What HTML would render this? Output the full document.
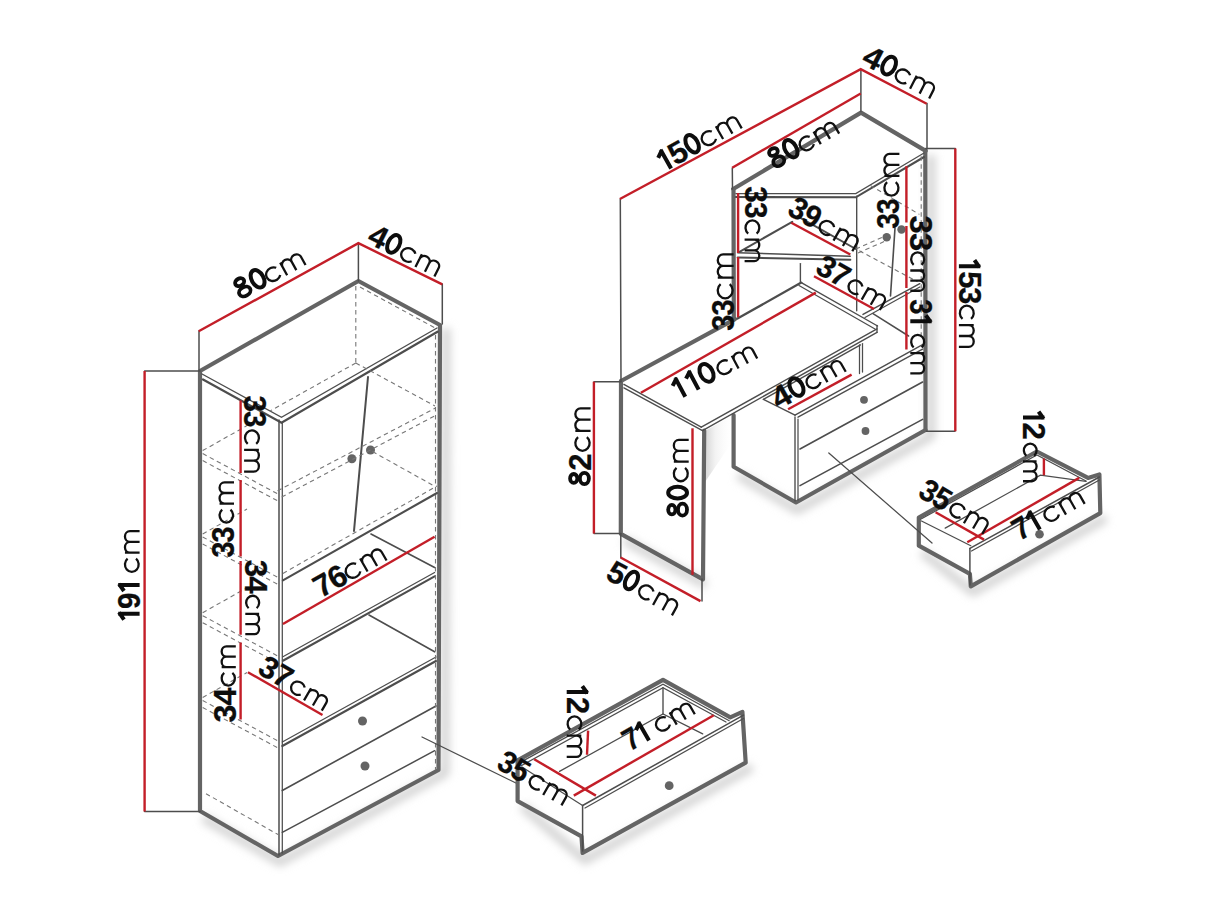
<!DOCTYPE html>
<html><head><meta charset="utf-8"><style>
html,body{margin:0;padding:0;background:#fff;}
svg{display:block;}
text{font-family:"Liberation Sans",sans-serif;fill:#0d0d0d;}
</style></head><body>
<svg width="1211" height="908" viewBox="0 0 1211 908">
<defs><linearGradient id="shg" x1="0" y1="0" x2="1" y2="0"><stop offset="0" stop-color="#d6d6d6"/><stop offset="0.35" stop-color="#f2f2f2"/><stop offset="1" stop-color="#fff" stop-opacity="0"/></linearGradient>
<filter id="blur" x="-20%" y="-20%" width="140%" height="140%"><feGaussianBlur stdDeviation="4"/></filter></defs>
<rect width="1211" height="908" fill="#fff"/>
<g filter="url(#blur)" fill="none" stroke="#d4d4d4" stroke-width="9" stroke-linejoin="round">
<path d="M446,328 L445,773 L280,862 L203,818"/>
<path d="M931,155 L931,436 L797,510 L738,475"/>
<path d="M624,540 L706,585"/>
<path d="M752,767 L585,860 L522,806"/>
<path d="M1106,518 L973,592 L922,552"/>
</g>
<path d="M200,371 L358.4,281 L440,325 L438.5,770 L278,856 L200,811 Z" fill="none" stroke="#646464" stroke-width="4.2" stroke-linejoin="round" stroke-linecap="round"/>
<path d="M202,374 L281.5,417.3 L437,328" fill="none" stroke="#4d4d4d" stroke-width="1.38" stroke-linecap="round"/>
<path d="M203,379.5 L281.5,422.7 L437.5,331.8" fill="none" stroke="#4d4d4d" stroke-width="2.25" stroke-linecap="round"/>
<path d="M279,420 L279,855" fill="none" stroke="#4d4d4d" stroke-width="1.50" stroke-linecap="round"/>
<path d="M282.3,422 L282.3,853" fill="none" stroke="#4d4d4d" stroke-width="1.25" stroke-linecap="round"/>
<path d="M368,377 L354,531" fill="none" stroke="#4d4d4d" stroke-width="2.00" stroke-linecap="round"/>
<circle cx="351.9" cy="458.8" r="4.5" fill="#646464"/>
<circle cx="370.5" cy="450" r="4.5" fill="#646464"/>
<path d="M282.9,580.4 L437,493" fill="none" stroke="#4d4d4d" stroke-width="2.12" stroke-linecap="round"/>
<path d="M282.9,573.4 L437,486" fill="none" stroke="#777" stroke-width="1.1" stroke-dasharray="4.5 3.5"/>
<path d="M371,534 L434.6,567.5" fill="none" stroke="#4d4d4d" stroke-width="1.62" stroke-linecap="round"/>
<path d="M282.9,656.7 L434.6,572.5" fill="none" stroke="#4d4d4d" stroke-width="1.25" stroke-linecap="round"/>
<path d="M282.9,660.7 L434.6,576.4" fill="none" stroke="#4d4d4d" stroke-width="2.12" stroke-linecap="round"/>
<path d="M369,615 L434.6,651.8" fill="none" stroke="#4d4d4d" stroke-width="1.62" stroke-linecap="round"/>
<path d="M282.3,742 L436,657" fill="none" stroke="#4d4d4d" stroke-width="1.25" stroke-linecap="round"/>
<path d="M282.3,746 L436,661" fill="none" stroke="#4d4d4d" stroke-width="2.12" stroke-linecap="round"/>
<path d="M282.3,790.5 L436,706" fill="none" stroke="#4d4d4d" stroke-width="1.62" stroke-linecap="round"/>
<path d="M282.3,832.3 L434.7,750.7" fill="none" stroke="#4d4d4d" stroke-width="1.50" stroke-linecap="round"/>
<circle cx="362.5" cy="721" r="4.5" fill="#646464"/>
<circle cx="365" cy="766" r="4.5" fill="#646464"/>
<path d="M355.8,286 L355.8,363" fill="none" stroke="#777" stroke-width="1.1" stroke-dasharray="4.5 3.5"/>
<path d="M360,287 L437,329" fill="none" stroke="#777" stroke-width="1.1" stroke-dasharray="4.5 3.5"/>
<path d="M355.8,363 L270,411" fill="none" stroke="#777" stroke-width="1.1" stroke-dasharray="4.5 3.5"/>
<path d="M355.8,363 L435,406" fill="none" stroke="#777" stroke-width="1.1" stroke-dasharray="4.5 3.5"/>
<path d="M435.5,335 L435.5,770" fill="none" stroke="#777" stroke-width="1.1" stroke-dasharray="4.5 3.5"/>
<path d="M277.6,490.8 L435.5,408" fill="none" stroke="#777" stroke-width="1.1" stroke-dasharray="4.5 3.5"/>
<path d="M281.7,497 L435.5,415.5" fill="none" stroke="#777" stroke-width="1.1" stroke-dasharray="4.5 3.5"/>
<path d="M372.5,451.6 L435.5,486.7" fill="none" stroke="#777" stroke-width="1.1" stroke-dasharray="4.5 3.5"/>
<path d="M202.7,450.6 L247,425.6" fill="none" stroke="#777" stroke-width="1.1" stroke-dasharray="4.5 3.5"/>
<path d="M202.7,453.6 L279,494.6" fill="none" stroke="#777" stroke-width="1.1" stroke-dasharray="4.5 3.5"/>
<path d="M202.7,460.6 L279,501.6" fill="none" stroke="#777" stroke-width="1.1" stroke-dasharray="4.5 3.5"/>
<path d="M202.7,534 L247,509" fill="none" stroke="#777" stroke-width="1.1" stroke-dasharray="4.5 3.5"/>
<path d="M202.7,537 L279,578" fill="none" stroke="#777" stroke-width="1.1" stroke-dasharray="4.5 3.5"/>
<path d="M202.7,544 L279,585" fill="none" stroke="#777" stroke-width="1.1" stroke-dasharray="4.5 3.5"/>
<path d="M202.7,612.7 L247,587.7" fill="none" stroke="#777" stroke-width="1.1" stroke-dasharray="4.5 3.5"/>
<path d="M202.7,615.7 L279,656.7" fill="none" stroke="#777" stroke-width="1.1" stroke-dasharray="4.5 3.5"/>
<path d="M202.7,622.7 L279,663.7" fill="none" stroke="#777" stroke-width="1.1" stroke-dasharray="4.5 3.5"/>
<path d="M202.7,697.5 L247,672.5" fill="none" stroke="#777" stroke-width="1.1" stroke-dasharray="4.5 3.5"/>
<path d="M202.7,700.5 L279,741.5" fill="none" stroke="#777" stroke-width="1.1" stroke-dasharray="4.5 3.5"/>
<path d="M202.7,707.5 L279,748.5" fill="none" stroke="#777" stroke-width="1.1" stroke-dasharray="4.5 3.5"/>
<path d="M206,793.7 L278,834.5" fill="none" stroke="#777" stroke-width="1.1" stroke-dasharray="4.5 3.5"/>
<path d="M199,331 L199,371" fill="none" stroke="#4d4d4d" stroke-width="1.50" stroke-linecap="round"/>
<path d="M358.4,243 L358.4,281" fill="none" stroke="#4d4d4d" stroke-width="1.50" stroke-linecap="round"/>
<path d="M442.3,284 L442.3,324" fill="none" stroke="#4d4d4d" stroke-width="1.50" stroke-linecap="round"/>
<path d="M144.6,371 L200,371" fill="none" stroke="#4d4d4d" stroke-width="1.50" stroke-linecap="round"/>
<path d="M144.6,811.5 L200,811.5" fill="none" stroke="#4d4d4d" stroke-width="1.50" stroke-linecap="round"/>
<path d="M198.7,331.3 L358.4,243.2 L442.3,284.4" fill="none" stroke="#c31e28" stroke-width="2.4" stroke-linecap="butt"/>
<path d="M144.6,371 L144.6,811.5" fill="none" stroke="#c31e28" stroke-width="2.4" stroke-linecap="butt"/>
<path d="M240.6,400.6 L240.6,473 M240.6,480 L240.6,556.5 M240.6,561 L240.6,634.7 M240.6,642.4 L240.6,719.5" fill="none" stroke="#c31e28" stroke-width="2.4" stroke-linecap="butt"/>
<path d="M282.9,624 L434.6,536.8" fill="none" stroke="#c31e28" stroke-width="2.4" stroke-linecap="butt"/>
<path d="M247.9,672.2 L322.5,715" fill="none" stroke="#c31e28" stroke-width="2.4" stroke-linecap="butt"/>
<path d="M422,737 L516.9,783.5" fill="none" stroke="#4d4d4d" stroke-width="1.25" stroke-linecap="round"/>
<path d="M517.6,760.3 L663,679.9 L730.3,717.4 L742.4,711.9 L745.7,762.6 L582.6,852.9 L581.5,836.4 L517.6,801.1 Z" fill="none" stroke="#646464" stroke-width="4.2" stroke-linejoin="round" stroke-linecap="round"/>
<path d="M582.6,805.5 L743.5,715.2" fill="none" stroke="#4d4d4d" stroke-width="1.50" stroke-linecap="round"/>
<path d="M585,808 L743.5,718.5" fill="none" stroke="#4d4d4d" stroke-width="1.25" stroke-linecap="round"/>
<path d="M582.6,805.5 L582.6,851" fill="none" stroke="#4d4d4d" stroke-width="1.50" stroke-linecap="round"/>
<path d="M519.8,762.6 L663,684.3 L729.2,720.7" fill="none" stroke="#4d4d4d" stroke-width="1.25" stroke-linecap="round"/>
<path d="M520.9,765.9 L663,687.6 L726,722" fill="none" stroke="#4d4d4d" stroke-width="1.25" stroke-linecap="round"/>
<path d="M663,687.6 L663,714" fill="none" stroke="#4d4d4d" stroke-width="1.38" stroke-linecap="round"/>
<path d="M559.5,771.4 L663,714 L702.7,733.9" fill="none" stroke="#4d4d4d" stroke-width="1.25" stroke-linecap="round"/>
<path d="M522,767 L582.6,805.5" fill="none" stroke="#4d4d4d" stroke-width="1.25" stroke-linecap="round"/>
<circle cx="669.2" cy="785.7" r="4.4" fill="#646464"/>
<path d="M588.1,730.6 L587,754.8" fill="none" stroke="#c31e28" stroke-width="2.4" stroke-linecap="butt"/>
<path d="M534.2,759.2 L595.9,795.6" fill="none" stroke="#c31e28" stroke-width="2.4" stroke-linecap="butt"/>
<path d="M573.8,795.6 L713.8,715.2" fill="none" stroke="#c31e28" stroke-width="2.4" stroke-linecap="butt"/>
<path d="M918.8,517.5 L1036.9,451.5 L1088,477.9 L1099.4,474.4 L1100.3,513.1 L970.8,586.3 L969.9,573.9 L918.8,545.7 Z" fill="none" stroke="#646464" stroke-width="4.2" stroke-linejoin="round" stroke-linecap="round"/>
<path d="M969.9,548.4 L1099.4,477" fill="none" stroke="#4d4d4d" stroke-width="1.50" stroke-linecap="round"/>
<path d="M971.5,551 L1099.4,480" fill="none" stroke="#4d4d4d" stroke-width="1.25" stroke-linecap="round"/>
<path d="M969.9,548.4 L969.9,585" fill="none" stroke="#4d4d4d" stroke-width="1.50" stroke-linecap="round"/>
<path d="M920.6,519.3 L1036.9,455 L1086,481" fill="none" stroke="#4d4d4d" stroke-width="1.25" stroke-linecap="round"/>
<path d="M921.5,521 L970.8,545.7" fill="none" stroke="#4d4d4d" stroke-width="1.25" stroke-linecap="round"/>
<path d="M945.2,528.1 L1040.4,475.2 L1086,481.4" fill="none" stroke="#4d4d4d" stroke-width="1.25" stroke-linecap="round"/>
<circle cx="1039.5" cy="534.3" r="4.3" fill="#646464"/>
<path d="M1043.9,458.5 L1043.9,475.2" fill="none" stroke="#c31e28" stroke-width="2.4" stroke-linecap="butt"/>
<path d="M935.6,512.2 L984,539.6" fill="none" stroke="#c31e28" stroke-width="2.4" stroke-linecap="butt"/>
<path d="M967.3,542.2 L1079.2,477.9" fill="none" stroke="#c31e28" stroke-width="2.4" stroke-linecap="butt"/>
<polygon points="705,431 733.6,415 733.6,440 705,482" fill="url(#shg)"/>
<path d="M733.2,189 L861,112.6 L925.7,150.9" fill="none" stroke="#646464" stroke-width="4.2" stroke-linejoin="round" stroke-linecap="round"/>
<path d="M733.5,189 L733.8,319.1" fill="none" stroke="#646464" stroke-width="4.2" stroke-linejoin="round" stroke-linecap="round"/>
<path d="M621,381 L735,319.1" fill="none" stroke="#646464" stroke-width="4.2" stroke-linejoin="round" stroke-linecap="round"/>
<path d="M621,381 L620.8,533.8 L703,579.3 L704.2,430.6" fill="none" stroke="#646464" stroke-width="4.2" stroke-linejoin="round" stroke-linecap="round"/>
<path d="M925.3,150.9 L925.5,430" fill="none" stroke="#646464" stroke-width="4.2" stroke-linejoin="round" stroke-linecap="round"/>
<path d="M733.6,415 L733.6,466.8 L796,502.5 L925.5,430" fill="none" stroke="#646464" stroke-width="4.2" stroke-linejoin="round" stroke-linecap="round"/>
<path d="M735.9,193.6 L855.8,193.6 L924,153" fill="none" stroke="#4d4d4d" stroke-width="1.25" stroke-linecap="round"/>
<path d="M735.9,197 L855.8,197.3 L924,157" fill="none" stroke="#4d4d4d" stroke-width="2.12" stroke-linecap="round"/>
<path d="M856.7,196.3 L856.7,310.8" fill="none" stroke="#4d4d4d" stroke-width="1.38" stroke-linecap="round"/>
<path d="M737.7,252.7 L850.3,256.3" fill="none" stroke="#4d4d4d" stroke-width="1.38" stroke-linecap="round"/>
<path d="M737.7,257.5 L850.3,259.8" fill="none" stroke="#4d4d4d" stroke-width="2.12" stroke-linecap="round"/>
<path d="M739.5,251.8 L792.2,221.8" fill="none" stroke="#4d4d4d" stroke-width="2.00" stroke-linecap="round"/>
<path d="M797.7,216.3 L855.8,249" fill="none" stroke="#4d4d4d" stroke-width="2.00" stroke-linecap="round"/>
<path d="M855.8,249 L888.5,234.5" fill="none" stroke="#777" stroke-width="1.1" stroke-dasharray="4.5 3.5"/>
<path d="M858,253 L890,239" fill="none" stroke="#777" stroke-width="1.1" stroke-dasharray="4.5 3.5"/>
<path d="M859.4,250.8 L917.5,281.7" fill="none" stroke="#777" stroke-width="1.1" stroke-dasharray="4.5 3.5"/>
<path d="M800.4,263.6 L800.4,282" fill="none" stroke="#4d4d4d" stroke-width="1.38" stroke-linecap="round"/>
<path d="M737.5,318.5 L801.3,282.6" fill="none" stroke="#4d4d4d" stroke-width="2.25" stroke-linecap="round"/>
<path d="M801.3,282.6 L877.6,326" fill="none" stroke="#4d4d4d" stroke-width="1.38" stroke-linecap="round"/>
<path d="M799,285.5 L875,329" fill="none" stroke="#4d4d4d" stroke-width="1.25" stroke-linecap="round"/>
<path d="M895,228 L890.5,296" fill="none" stroke="#4d4d4d" stroke-width="1.62" stroke-linecap="round"/>
<path d="M863,314.4 L919.8,283.7" fill="none" stroke="#4d4d4d" stroke-width="1.50" stroke-linecap="round"/>
<path d="M865,317.5 L919.8,287" fill="none" stroke="#4d4d4d" stroke-width="1.25" stroke-linecap="round"/>
<path d="M873,313.7 L908.6,336" fill="none" stroke="#4d4d4d" stroke-width="1.50" stroke-linecap="round"/>
<path d="M921.2,156.3 L921.2,340" fill="none" stroke="#777" stroke-width="1.1" stroke-dasharray="4.5 3.5"/>
<path d="M870.3,185.4 L919.4,214.4" fill="none" stroke="#777" stroke-width="1.1" stroke-dasharray="4.5 3.5"/>
<circle cx="886.7" cy="237.2" r="4.2" fill="#646464"/>
<circle cx="901.5" cy="229.5" r="4.2" fill="#646464"/>
<path d="M623.9,384.4 L701.3,427.2" fill="none" stroke="#4d4d4d" stroke-width="1.38" stroke-linecap="round"/>
<path d="M623.9,387.9 L702.5,430.6" fill="none" stroke="#4d4d4d" stroke-width="1.38" stroke-linecap="round"/>
<path d="M701.3,427.2 L877,328.9" fill="none" stroke="#4d4d4d" stroke-width="1.38" stroke-linecap="round"/>
<path d="M702.5,430.6 L877,332.4" fill="none" stroke="#4d4d4d" stroke-width="1.38" stroke-linecap="round"/>
<path d="M877,325.4 L877,332.4" fill="none" stroke="#4d4d4d" stroke-width="1.38" stroke-linecap="round"/>
<path d="M763.4,399.4 L795,415.2" fill="none" stroke="#4d4d4d" stroke-width="1.38" stroke-linecap="round"/>
<path d="M763.4,399.4 L860.5,344.9" fill="none" stroke="#4d4d4d" stroke-width="1.38" stroke-linecap="round"/>
<path d="M795,415.2 L922.6,344.6" fill="none" stroke="#4d4d4d" stroke-width="1.38" stroke-linecap="round"/>
<path d="M798,417.2 L922.6,349.2" fill="none" stroke="#4d4d4d" stroke-width="1.38" stroke-linecap="round"/>
<path d="M795,417 L795,501" fill="none" stroke="#4d4d4d" stroke-width="1.38" stroke-linecap="round"/>
<path d="M798,419 L798,500" fill="none" stroke="#4d4d4d" stroke-width="1.25" stroke-linecap="round"/>
<path d="M859.5,344.9 L859.5,373.6" fill="none" stroke="#4d4d4d" stroke-width="1.25" stroke-linecap="round"/>
<path d="M862.5,343.5 L862.5,372" fill="none" stroke="#4d4d4d" stroke-width="1.25" stroke-linecap="round"/>
<path d="M800,449 L922.6,382" fill="none" stroke="#4d4d4d" stroke-width="1.62" stroke-linecap="round"/>
<path d="M800,485.6 L922.6,419.4" fill="none" stroke="#4d4d4d" stroke-width="1.62" stroke-linecap="round"/>
<circle cx="864" cy="399.8" r="3.9" fill="#646464"/>
<circle cx="865.5" cy="431" r="3.9" fill="#646464"/>
<path d="M828.8,453 L932,543" fill="none" stroke="#4d4d4d" stroke-width="1.25" stroke-linecap="round"/>
<path d="M620.3,199 L621,381" fill="none" stroke="#4d4d4d" stroke-width="1.50" stroke-linecap="round"/>
<path d="M732.3,168 L732.5,189" fill="none" stroke="#4d4d4d" stroke-width="1.50" stroke-linecap="round"/>
<path d="M860.9,69.6 L860.9,111.4" fill="none" stroke="#4d4d4d" stroke-width="1.50" stroke-linecap="round"/>
<path d="M927,103.4 L927,149" fill="none" stroke="#4d4d4d" stroke-width="1.50" stroke-linecap="round"/>
<path d="M925.7,148.5 L955.3,148.5" fill="none" stroke="#4d4d4d" stroke-width="1.50" stroke-linecap="round"/>
<path d="M926.4,431.2 L955,431.2" fill="none" stroke="#4d4d4d" stroke-width="1.50" stroke-linecap="round"/>
<path d="M594,381.7 L621,381.7" fill="none" stroke="#4d4d4d" stroke-width="1.50" stroke-linecap="round"/>
<path d="M594,533.5 L620.8,533.5" fill="none" stroke="#4d4d4d" stroke-width="1.50" stroke-linecap="round"/>
<path d="M620.8,533.8 L620.8,557.5" fill="none" stroke="#4d4d4d" stroke-width="1.50" stroke-linecap="round"/>
<path d="M702,579 L702,601" fill="none" stroke="#4d4d4d" stroke-width="1.50" stroke-linecap="round"/>
<path d="M619.9,199 L860.7,69.2 L926.7,103.8" fill="none" stroke="#c31e28" stroke-width="2.4" stroke-linecap="butt"/>
<path d="M732.2,167.8 L860.7,93.5" fill="none" stroke="#c31e28" stroke-width="2.4" stroke-linecap="butt"/>
<path d="M955.3,148.5 L955.3,431.2" fill="none" stroke="#c31e28" stroke-width="2.4" stroke-linecap="butt"/>
<path d="M738.1,193 L738.1,253 M738.1,257 L738.1,317.3" fill="none" stroke="#c31e28" stroke-width="2.4" stroke-linecap="butt"/>
<path d="M906.4,166.3 L906.4,222.5 M906.4,226 L906.4,288 M906.4,292 L906.4,349.4" fill="none" stroke="#c31e28" stroke-width="2.4" stroke-linecap="butt"/>
<path d="M791.3,222.7 L850.3,254.5" fill="none" stroke="#c31e28" stroke-width="2.4" stroke-linecap="butt"/>
<path d="M814,276.3 L874,309" fill="none" stroke="#c31e28" stroke-width="2.4" stroke-linecap="butt"/>
<path d="M640.9,392.8 L815.8,292.6" fill="none" stroke="#c31e28" stroke-width="2.4" stroke-linecap="butt"/>
<path d="M788.1,409.3 L851.6,374.6" fill="none" stroke="#c31e28" stroke-width="2.4" stroke-linecap="butt"/>
<path d="M593.9,381.7 L593.9,533.5" fill="none" stroke="#c31e28" stroke-width="2.4" stroke-linecap="butt"/>
<path d="M692.5,428.3 L692.5,574.8" fill="none" stroke="#c31e28" stroke-width="2.4" stroke-linecap="butt"/>
<path d="M620.6,557.5 L700.5,601.1" fill="none" stroke="#c31e28" stroke-width="2.4" stroke-linecap="butt"/>
<g transform="translate(240.8 300.8) rotate(-28.90)"><ellipse cx="8.00" cy="-6.21" rx="6.10" ry="4.51" stroke="#0d0d0d" stroke-width="3.8" fill="none"/><ellipse cx="8.00" cy="-16.87" rx="4.82" ry="3.63" stroke="#0d0d0d" stroke-width="3.8" fill="none"/><ellipse cx="25.30" cy="-11.10" rx="6.00" ry="9.40" stroke="#0d0d0d" stroke-width="4.0" fill="none"/><path transform="translate(33.06 0) scale(1.642 1.527)" d="M8.47,-7.71 A4.4,4.4 0 1 0 8.47,-2.29 M12.1,0 V-9.4 M12.1,-6.2 A3.2,3.2 0 0 1 18.5,-6.2 V0 M18.5,-6.2 A3.2,3.2 0 0 1 24.9,-6.2 V0" fill="none" stroke="#111" stroke-width="2.3" vector-effect="non-scaling-stroke"/></g>
<g transform="translate(366.7 242.8) rotate(26.50)"><text x="-1.10" y="0" font-size="31" font-weight="bold" stroke="#0d0d0d" stroke-width="0.25" textLength="17.80" lengthAdjust="spacingAndGlyphs">4</text><ellipse cx="24.70" cy="-11.10" rx="5.80" ry="9.40" stroke="#0d0d0d" stroke-width="4.0" fill="none"/><path transform="translate(34.46 0) scale(1.654 1.539)" d="M8.47,-7.71 A4.4,4.4 0 1 0 8.47,-2.29 M12.1,0 V-9.4 M12.1,-6.2 A3.2,3.2 0 0 1 18.5,-6.2 V0 M18.5,-6.2 A3.2,3.2 0 0 1 24.9,-6.2 V0" fill="none" stroke="#111" stroke-width="2.3" vector-effect="non-scaling-stroke"/></g>
<g transform="translate(139.6 621.0) rotate(-90.00)"><path d="M7.35,0 V-21.40 M8.55,-20.60 L1.35,-15.60" stroke="#0d0d0d" stroke-width="4.0" fill="none"/><text x="12.06" y="0" font-size="31" font-weight="bold" stroke="#0d0d0d" stroke-width="0.25" textLength="16.38" lengthAdjust="spacingAndGlyphs">9</text><path d="M35.99,0 V-21.40 M37.19,-20.60 L29.99,-15.60" stroke="#0d0d0d" stroke-width="4.0" fill="none"/><path transform="translate(48.15 0) scale(1.675 1.558)" d="M8.47,-7.71 A4.4,4.4 0 1 0 8.47,-2.29 M12.1,0 V-9.4 M12.1,-6.2 A3.2,3.2 0 0 1 18.5,-6.2 V0 M18.5,-6.2 A3.2,3.2 0 0 1 24.9,-6.2 V0" fill="none" stroke="#111" stroke-width="2.3" vector-effect="non-scaling-stroke"/></g>
<g transform="translate(244.1 396.6) rotate(90.00)"><text x="-1.10" y="0" font-size="31" font-weight="bold" stroke="#0d0d0d" stroke-width="0.25" textLength="16.45" lengthAdjust="spacingAndGlyphs">3</text><text x="14.45" y="0" font-size="31" font-weight="bold" stroke="#0d0d0d" stroke-width="0.25" textLength="16.45" lengthAdjust="spacingAndGlyphs">3</text><path transform="translate(32.84 0) scale(1.691 1.573)" d="M8.47,-7.71 A4.4,4.4 0 1 0 8.47,-2.29 M12.1,0 V-9.4 M12.1,-6.2 A3.2,3.2 0 0 1 18.5,-6.2 V0 M18.5,-6.2 A3.2,3.2 0 0 1 24.9,-6.2 V0" fill="none" stroke="#111" stroke-width="2.3" vector-effect="non-scaling-stroke"/></g>
<g transform="translate(234.0 556.5) rotate(-90.00)"><text x="-1.10" y="0" font-size="31" font-weight="bold" stroke="#0d0d0d" stroke-width="0.25" textLength="16.00" lengthAdjust="spacingAndGlyphs">3</text><text x="14.00" y="0" font-size="31" font-weight="bold" stroke="#0d0d0d" stroke-width="0.25" textLength="16.00" lengthAdjust="spacingAndGlyphs">3</text><path transform="translate(32.96 0) scale(1.650 1.535)" d="M8.47,-7.71 A4.4,4.4 0 1 0 8.47,-2.29 M12.1,0 V-9.4 M12.1,-6.2 A3.2,3.2 0 0 1 18.5,-6.2 V0 M18.5,-6.2 A3.2,3.2 0 0 1 24.9,-6.2 V0" fill="none" stroke="#111" stroke-width="2.3" vector-effect="non-scaling-stroke"/></g>
<g transform="translate(245.3 560.9) rotate(90.00)"><text x="-1.10" y="0" font-size="31" font-weight="bold" stroke="#0d0d0d" stroke-width="0.25" textLength="17.40" lengthAdjust="spacingAndGlyphs">3</text><text x="15.40" y="0" font-size="31" font-weight="bold" stroke="#0d0d0d" stroke-width="0.25" textLength="17.40" lengthAdjust="spacingAndGlyphs">4</text><path transform="translate(33.90 0) scale(1.580 1.470)" d="M8.47,-7.71 A4.4,4.4 0 1 0 8.47,-2.29 M12.1,0 V-9.4 M12.1,-6.2 A3.2,3.2 0 0 1 18.5,-6.2 V0 M18.5,-6.2 A3.2,3.2 0 0 1 24.9,-6.2 V0" fill="none" stroke="#111" stroke-width="2.3" vector-effect="non-scaling-stroke"/></g>
<g transform="translate(235.8 721.5) rotate(-90.00)"><text x="-1.10" y="0" font-size="31" font-weight="bold" stroke="#0d0d0d" stroke-width="0.25" textLength="17.90" lengthAdjust="spacingAndGlyphs">3</text><text x="15.90" y="0" font-size="31" font-weight="bold" stroke="#0d0d0d" stroke-width="0.25" textLength="17.90" lengthAdjust="spacingAndGlyphs">4</text><path transform="translate(34.88 0) scale(1.617 1.504)" d="M8.47,-7.71 A4.4,4.4 0 1 0 8.47,-2.29 M12.1,0 V-9.4 M12.1,-6.2 A3.2,3.2 0 0 1 18.5,-6.2 V0 M18.5,-6.2 A3.2,3.2 0 0 1 24.9,-6.2 V0" fill="none" stroke="#111" stroke-width="2.3" vector-effect="non-scaling-stroke"/></g>
<g transform="translate(321.6 597.9) rotate(-29.90)"><text x="-1.10" y="0" font-size="31" font-weight="bold" stroke="#0d0d0d" stroke-width="0.25" textLength="17.55" lengthAdjust="spacingAndGlyphs">7</text><text x="15.55" y="0" font-size="31" font-weight="bold" stroke="#0d0d0d" stroke-width="0.25" textLength="17.55" lengthAdjust="spacingAndGlyphs">6</text><path transform="translate(32.32 0) scale(1.712 1.592)" d="M8.47,-7.71 A4.4,4.4 0 1 0 8.47,-2.29 M12.1,0 V-9.4 M12.1,-6.2 A3.2,3.2 0 0 1 18.5,-6.2 V0 M18.5,-6.2 A3.2,3.2 0 0 1 24.9,-6.2 V0" fill="none" stroke="#111" stroke-width="2.3" vector-effect="non-scaling-stroke"/></g>
<g transform="translate(257.3 673.4) rotate(30.00)"><text x="-1.10" y="0" font-size="31" font-weight="bold" stroke="#0d0d0d" stroke-width="0.25" textLength="17.25" lengthAdjust="spacingAndGlyphs">3</text><text x="15.25" y="0" font-size="31" font-weight="bold" stroke="#0d0d0d" stroke-width="0.25" textLength="17.25" lengthAdjust="spacingAndGlyphs">7</text><path transform="translate(34.59 0) scale(1.601 1.489)" d="M8.47,-7.71 A4.4,4.4 0 1 0 8.47,-2.29 M12.1,0 V-9.4 M12.1,-6.2 A3.2,3.2 0 0 1 18.5,-6.2 V0 M18.5,-6.2 A3.2,3.2 0 0 1 24.9,-6.2 V0" fill="none" stroke="#111" stroke-width="2.3" vector-effect="non-scaling-stroke"/></g>
<g transform="translate(566.7 684.3) rotate(90.00)"><path d="M7.74,0 V-21.40 M8.94,-20.60 L1.74,-15.60" stroke="#0d0d0d" stroke-width="4.0" fill="none"/><text x="12.68" y="0" font-size="31" font-weight="bold" stroke="#0d0d0d" stroke-width="0.25" textLength="17.12" lengthAdjust="spacingAndGlyphs">2</text><path transform="translate(31.05 0) scale(1.671 1.554)" d="M8.47,-7.71 A4.4,4.4 0 1 0 8.47,-2.29 M12.1,0 V-9.4 M12.1,-6.2 A3.2,3.2 0 0 1 18.5,-6.2 V0 M18.5,-6.2 A3.2,3.2 0 0 1 24.9,-6.2 V0" fill="none" stroke="#111" stroke-width="2.3" vector-effect="non-scaling-stroke"/></g>
<g transform="translate(496.1 768.4) rotate(29.50)"><text x="-1.10" y="0" font-size="31" font-weight="bold" stroke="#0d0d0d" stroke-width="0.25" textLength="16.20" lengthAdjust="spacingAndGlyphs">3</text><text x="14.20" y="0" font-size="31" font-weight="bold" stroke="#0d0d0d" stroke-width="0.25" textLength="16.20" lengthAdjust="spacingAndGlyphs">5</text><path transform="translate(34.27 0) scale(1.638 1.523)" d="M8.47,-7.71 A4.4,4.4 0 1 0 8.47,-2.29 M12.1,0 V-9.4 M12.1,-6.2 A3.2,3.2 0 0 1 18.5,-6.2 V0 M18.5,-6.2 A3.2,3.2 0 0 1 24.9,-6.2 V0" fill="none" stroke="#111" stroke-width="2.3" vector-effect="non-scaling-stroke"/></g>
<g transform="translate(630.6 751.2) rotate(-29.90)"><text x="-1.10" y="0" font-size="31" font-weight="bold" stroke="#0d0d0d" stroke-width="0.25" textLength="15.33" lengthAdjust="spacingAndGlyphs">7</text><path d="M21.23,0 V-21.40 M22.43,-20.60 L15.23,-15.60" stroke="#0d0d0d" stroke-width="4.0" fill="none"/><path transform="translate(33.57 0) scale(1.626 1.512)" d="M8.47,-7.71 A4.4,4.4 0 1 0 8.47,-2.29 M12.1,0 V-9.4 M12.1,-6.2 A3.2,3.2 0 0 1 18.5,-6.2 V0 M18.5,-6.2 A3.2,3.2 0 0 1 24.9,-6.2 V0" fill="none" stroke="#111" stroke-width="2.3" vector-effect="non-scaling-stroke"/></g>
<g transform="translate(1023.0 409.7) rotate(90.00)"><path d="M7.85,0 V-21.40 M9.05,-20.60 L1.85,-15.60" stroke="#0d0d0d" stroke-width="4.0" fill="none"/><text x="12.87" y="0" font-size="31" font-weight="bold" stroke="#0d0d0d" stroke-width="0.25" textLength="17.33" lengthAdjust="spacingAndGlyphs">2</text><path transform="translate(32.92 0) scale(1.551 1.443)" d="M8.47,-7.71 A4.4,4.4 0 1 0 8.47,-2.29 M12.1,0 V-9.4 M12.1,-6.2 A3.2,3.2 0 0 1 18.5,-6.2 V0 M18.5,-6.2 A3.2,3.2 0 0 1 24.9,-6.2 V0" fill="none" stroke="#111" stroke-width="2.3" vector-effect="non-scaling-stroke"/></g>
<g transform="translate(917.6 496.5) rotate(30.00)"><text x="-1.10" y="0" font-size="31" font-weight="bold" stroke="#0d0d0d" stroke-width="0.25" textLength="16.35" lengthAdjust="spacingAndGlyphs">3</text><text x="14.35" y="0" font-size="31" font-weight="bold" stroke="#0d0d0d" stroke-width="0.25" textLength="16.35" lengthAdjust="spacingAndGlyphs">5</text><path transform="translate(33.46 0) scale(1.654 1.539)" d="M8.47,-7.71 A4.4,4.4 0 1 0 8.47,-2.29 M12.1,0 V-9.4 M12.1,-6.2 A3.2,3.2 0 0 1 18.5,-6.2 V0 M18.5,-6.2 A3.2,3.2 0 0 1 24.9,-6.2 V0" fill="none" stroke="#111" stroke-width="2.3" vector-effect="non-scaling-stroke"/></g>
<g transform="translate(1020.4 540.8) rotate(-29.90)"><text x="-1.10" y="0" font-size="31" font-weight="bold" stroke="#0d0d0d" stroke-width="0.25" textLength="16.14" lengthAdjust="spacingAndGlyphs">7</text><path d="M22.47,0 V-21.40 M23.67,-20.60 L16.47,-15.60" stroke="#0d0d0d" stroke-width="4.0" fill="none"/><path transform="translate(32.24 0) scale(1.683 1.565)" d="M8.47,-7.71 A4.4,4.4 0 1 0 8.47,-2.29 M12.1,0 V-9.4 M12.1,-6.2 A3.2,3.2 0 0 1 18.5,-6.2 V0 M18.5,-6.2 A3.2,3.2 0 0 1 24.9,-6.2 V0" fill="none" stroke="#111" stroke-width="2.3" vector-effect="non-scaling-stroke"/></g>
<g transform="translate(664.2 172.4) rotate(-29.60)"><path d="M7.96,0 V-21.40 M9.16,-20.60 L1.96,-15.60" stroke="#0d0d0d" stroke-width="4.0" fill="none"/><text x="13.04" y="0" font-size="31" font-weight="bold" stroke="#0d0d0d" stroke-width="0.25" textLength="17.53" lengthAdjust="spacingAndGlyphs">5</text><ellipse cx="38.43" cy="-11.10" rx="5.67" ry="9.40" stroke="#0d0d0d" stroke-width="4.0" fill="none"/><path transform="translate(47.45 0) scale(1.675 1.558)" d="M8.47,-7.71 A4.4,4.4 0 1 0 8.47,-2.29 M12.1,0 V-9.4 M12.1,-6.2 A3.2,3.2 0 0 1 18.5,-6.2 V0 M18.5,-6.2 A3.2,3.2 0 0 1 24.9,-6.2 V0" fill="none" stroke="#111" stroke-width="2.3" vector-effect="non-scaling-stroke"/></g>
<g transform="translate(861.1 63.8) rotate(27.00)"><text x="-1.10" y="0" font-size="31" font-weight="bold" stroke="#0d0d0d" stroke-width="0.25" textLength="18.50" lengthAdjust="spacingAndGlyphs">4</text><ellipse cx="25.75" cy="-11.10" rx="6.15" ry="9.40" stroke="#0d0d0d" stroke-width="4.0" fill="none"/><path transform="translate(34.75 0) scale(1.671 1.554)" d="M8.47,-7.71 A4.4,4.4 0 1 0 8.47,-2.29 M12.1,0 V-9.4 M12.1,-6.2 A3.2,3.2 0 0 1 18.5,-6.2 V0 M18.5,-6.2 A3.2,3.2 0 0 1 24.9,-6.2 V0" fill="none" stroke="#111" stroke-width="2.3" vector-effect="non-scaling-stroke"/></g>
<g transform="translate(775.2 170.5) rotate(-30.00)"><ellipse cx="7.67" cy="-6.21" rx="5.77" ry="4.51" stroke="#0d0d0d" stroke-width="3.8" fill="none"/><ellipse cx="7.67" cy="-16.87" rx="4.55" ry="3.63" stroke="#0d0d0d" stroke-width="3.8" fill="none"/><ellipse cx="24.32" cy="-11.10" rx="5.67" ry="9.40" stroke="#0d0d0d" stroke-width="4.0" fill="none"/><path transform="translate(32.66 0) scale(1.654 1.539)" d="M8.47,-7.71 A4.4,4.4 0 1 0 8.47,-2.29 M12.1,0 V-9.4 M12.1,-6.2 A3.2,3.2 0 0 1 18.5,-6.2 V0 M18.5,-6.2 A3.2,3.2 0 0 1 24.9,-6.2 V0" fill="none" stroke="#111" stroke-width="2.3" vector-effect="non-scaling-stroke"/></g>
<g transform="translate(744.6 187.4) rotate(90.00)"><text x="-1.10" y="0" font-size="31" font-weight="bold" stroke="#0d0d0d" stroke-width="0.25" textLength="16.55" lengthAdjust="spacingAndGlyphs">3</text><text x="14.55" y="0" font-size="31" font-weight="bold" stroke="#0d0d0d" stroke-width="0.25" textLength="16.55" lengthAdjust="spacingAndGlyphs">3</text><path transform="translate(31.94 0) scale(1.679 1.561)" d="M8.47,-7.71 A4.4,4.4 0 1 0 8.47,-2.29 M12.1,0 V-9.4 M12.1,-6.2 A3.2,3.2 0 0 1 18.5,-6.2 V0 M18.5,-6.2 A3.2,3.2 0 0 1 24.9,-6.2 V0" fill="none" stroke="#111" stroke-width="2.3" vector-effect="non-scaling-stroke"/></g>
<g transform="translate(786.9 214.3) rotate(29.50)"><text x="-1.10" y="0" font-size="31" font-weight="bold" stroke="#0d0d0d" stroke-width="0.25" textLength="16.65" lengthAdjust="spacingAndGlyphs">3</text><text x="14.65" y="0" font-size="31" font-weight="bold" stroke="#0d0d0d" stroke-width="0.25" textLength="16.65" lengthAdjust="spacingAndGlyphs">9</text><path transform="translate(33.14 0) scale(1.687 1.569)" d="M8.47,-7.71 A4.4,4.4 0 1 0 8.47,-2.29 M12.1,0 V-9.4 M12.1,-6.2 A3.2,3.2 0 0 1 18.5,-6.2 V0 M18.5,-6.2 A3.2,3.2 0 0 1 24.9,-6.2 V0" fill="none" stroke="#111" stroke-width="2.3" vector-effect="non-scaling-stroke"/></g>
<g transform="translate(899.4 227.7) rotate(-90.00)"><text x="-1.10" y="0" font-size="31" font-weight="bold" stroke="#0d0d0d" stroke-width="0.25" textLength="15.60" lengthAdjust="spacingAndGlyphs">3</text><text x="13.60" y="0" font-size="31" font-weight="bold" stroke="#0d0d0d" stroke-width="0.25" textLength="15.60" lengthAdjust="spacingAndGlyphs">3</text><path transform="translate(31.02 0) scale(1.716 1.596)" d="M8.47,-7.71 A4.4,4.4 0 1 0 8.47,-2.29 M12.1,0 V-9.4 M12.1,-6.2 A3.2,3.2 0 0 1 18.5,-6.2 V0 M18.5,-6.2 A3.2,3.2 0 0 1 24.9,-6.2 V0" fill="none" stroke="#111" stroke-width="2.3" vector-effect="non-scaling-stroke"/></g>
<g transform="translate(910.3 216.7) rotate(90.00)"><text x="-1.10" y="0" font-size="31" font-weight="bold" stroke="#0d0d0d" stroke-width="0.25" textLength="18.25" lengthAdjust="spacingAndGlyphs">3</text><text x="16.25" y="0" font-size="31" font-weight="bold" stroke="#0d0d0d" stroke-width="0.25" textLength="18.25" lengthAdjust="spacingAndGlyphs">3</text><path transform="translate(34.70 0) scale(1.580 1.470)" d="M8.47,-7.71 A4.4,4.4 0 1 0 8.47,-2.29 M12.1,0 V-9.4 M12.1,-6.2 A3.2,3.2 0 0 1 18.5,-6.2 V0 M18.5,-6.2 A3.2,3.2 0 0 1 24.9,-6.2 V0" fill="none" stroke="#111" stroke-width="2.3" vector-effect="non-scaling-stroke"/></g>
<g transform="translate(815.0 272.6) rotate(30.00)"><text x="-1.10" y="0" font-size="31" font-weight="bold" stroke="#0d0d0d" stroke-width="0.25" textLength="16.95" lengthAdjust="spacingAndGlyphs">3</text><text x="14.95" y="0" font-size="31" font-weight="bold" stroke="#0d0d0d" stroke-width="0.25" textLength="16.95" lengthAdjust="spacingAndGlyphs">7</text><path transform="translate(34.27 0) scale(1.626 1.512)" d="M8.47,-7.71 A4.4,4.4 0 1 0 8.47,-2.29 M12.1,0 V-9.4 M12.1,-6.2 A3.2,3.2 0 0 1 18.5,-6.2 V0 M18.5,-6.2 A3.2,3.2 0 0 1 24.9,-6.2 V0" fill="none" stroke="#111" stroke-width="2.3" vector-effect="non-scaling-stroke"/></g>
<g transform="translate(910.3 300.3) rotate(90.00)"><text x="-1.10" y="0" font-size="31" font-weight="bold" stroke="#0d0d0d" stroke-width="0.25" textLength="15.17" lengthAdjust="spacingAndGlyphs">3</text><path d="M20.98,0 V-21.40 M22.18,-20.60 L14.98,-15.60" stroke="#0d0d0d" stroke-width="4.0" fill="none"/><path transform="translate(33.60 0) scale(1.584 1.473)" d="M8.47,-7.71 A4.4,4.4 0 1 0 8.47,-2.29 M12.1,0 V-9.4 M12.1,-6.2 A3.2,3.2 0 0 1 18.5,-6.2 V0 M18.5,-6.2 A3.2,3.2 0 0 1 24.9,-6.2 V0" fill="none" stroke="#111" stroke-width="2.3" vector-effect="non-scaling-stroke"/></g>
<g transform="translate(733.6 329.7) rotate(-90.00)"><text x="-1.10" y="0" font-size="31" font-weight="bold" stroke="#0d0d0d" stroke-width="0.25" textLength="16.10" lengthAdjust="spacingAndGlyphs">3</text><text x="14.10" y="0" font-size="31" font-weight="bold" stroke="#0d0d0d" stroke-width="0.25" textLength="16.10" lengthAdjust="spacingAndGlyphs">3</text><path transform="translate(30.26 0) scale(1.811 1.684)" d="M8.47,-7.71 A4.4,4.4 0 1 0 8.47,-2.29 M12.1,0 V-9.4 M12.1,-6.2 A3.2,3.2 0 0 1 18.5,-6.2 V0 M18.5,-6.2 A3.2,3.2 0 0 1 24.9,-6.2 V0" fill="none" stroke="#111" stroke-width="2.3" vector-effect="non-scaling-stroke"/></g>
<g transform="translate(958.9 258.5) rotate(90.00)"><path d="M7.72,0 V-21.40 M8.92,-20.60 L1.72,-15.60" stroke="#0d0d0d" stroke-width="4.0" fill="none"/><text x="12.65" y="0" font-size="31" font-weight="bold" stroke="#0d0d0d" stroke-width="0.25" textLength="17.08" lengthAdjust="spacingAndGlyphs">5</text><text x="28.82" y="0" font-size="31" font-weight="bold" stroke="#0d0d0d" stroke-width="0.25" textLength="17.08" lengthAdjust="spacingAndGlyphs">3</text><path transform="translate(46.13 0) scale(1.695 1.577)" d="M8.47,-7.71 A4.4,4.4 0 1 0 8.47,-2.29 M12.1,0 V-9.4 M12.1,-6.2 A3.2,3.2 0 0 1 18.5,-6.2 V0 M18.5,-6.2 A3.2,3.2 0 0 1 24.9,-6.2 V0" fill="none" stroke="#111" stroke-width="2.3" vector-effect="non-scaling-stroke"/></g>
<g transform="translate(677.7 400.8) rotate(-28.00)"><path d="M8.58,0 V-21.40 M9.78,-20.60 L2.58,-15.60" stroke="#0d0d0d" stroke-width="4.0" fill="none"/><path d="M23.72,0 V-21.40 M24.92,-20.60 L17.72,-15.60" stroke="#0d0d0d" stroke-width="4.0" fill="none"/><ellipse cx="38.54" cy="-11.10" rx="6.26" ry="9.40" stroke="#0d0d0d" stroke-width="4.0" fill="none"/><path transform="translate(48.96 0) scale(1.650 1.535)" d="M8.47,-7.71 A4.4,4.4 0 1 0 8.47,-2.29 M12.1,0 V-9.4 M12.1,-6.2 A3.2,3.2 0 0 1 18.5,-6.2 V0 M18.5,-6.2 A3.2,3.2 0 0 1 24.9,-6.2 V0" fill="none" stroke="#111" stroke-width="2.3" vector-effect="non-scaling-stroke"/></g>
<g transform="translate(779.5 409.5) rotate(-29.70)"><text x="-1.10" y="0" font-size="31" font-weight="bold" stroke="#0d0d0d" stroke-width="0.25" textLength="18.55" lengthAdjust="spacingAndGlyphs">4</text><ellipse cx="25.82" cy="-11.10" rx="6.17" ry="9.40" stroke="#0d0d0d" stroke-width="4.0" fill="none"/><path transform="translate(35.36 0) scale(1.642 1.527)" d="M8.47,-7.71 A4.4,4.4 0 1 0 8.47,-2.29 M12.1,0 V-9.4 M12.1,-6.2 A3.2,3.2 0 0 1 18.5,-6.2 V0 M18.5,-6.2 A3.2,3.2 0 0 1 24.9,-6.2 V0" fill="none" stroke="#111" stroke-width="2.3" vector-effect="non-scaling-stroke"/></g>
<g transform="translate(590.6 486.0) rotate(-90.00)"><ellipse cx="7.55" cy="-6.21" rx="5.65" ry="4.51" stroke="#0d0d0d" stroke-width="3.8" fill="none"/><ellipse cx="7.55" cy="-16.87" rx="4.44" ry="3.63" stroke="#0d0d0d" stroke-width="3.8" fill="none"/><text x="15.30" y="0" font-size="31" font-weight="bold" stroke="#0d0d0d" stroke-width="0.25" textLength="17.30" lengthAdjust="spacingAndGlyphs">2</text><path transform="translate(34.10 0) scale(1.745 1.623)" d="M8.47,-7.71 A4.4,4.4 0 1 0 8.47,-2.29 M12.1,0 V-9.4 M12.1,-6.2 A3.2,3.2 0 0 1 18.5,-6.2 V0 M18.5,-6.2 A3.2,3.2 0 0 1 24.9,-6.2 V0" fill="none" stroke="#111" stroke-width="2.3" vector-effect="non-scaling-stroke"/></g>
<g transform="translate(688.7 517.5) rotate(-90.00)"><ellipse cx="7.85" cy="-6.21" rx="5.95" ry="4.51" stroke="#0d0d0d" stroke-width="3.8" fill="none"/><ellipse cx="7.85" cy="-16.87" rx="4.69" ry="3.63" stroke="#0d0d0d" stroke-width="3.8" fill="none"/><ellipse cx="24.85" cy="-11.10" rx="5.85" ry="9.40" stroke="#0d0d0d" stroke-width="4.0" fill="none"/><path transform="translate(35.23 0) scale(1.700 1.581)" d="M8.47,-7.71 A4.4,4.4 0 1 0 8.47,-2.29 M12.1,0 V-9.4 M12.1,-6.2 A3.2,3.2 0 0 1 18.5,-6.2 V0 M18.5,-6.2 A3.2,3.2 0 0 1 24.9,-6.2 V0" fill="none" stroke="#111" stroke-width="2.3" vector-effect="non-scaling-stroke"/></g>
<g transform="translate(605.2 578.7) rotate(28.80)"><text x="-1.10" y="0" font-size="31" font-weight="bold" stroke="#0d0d0d" stroke-width="0.25" textLength="17.25" lengthAdjust="spacingAndGlyphs">5</text><ellipse cx="23.87" cy="-11.10" rx="5.52" ry="9.40" stroke="#0d0d0d" stroke-width="4.0" fill="none"/><path transform="translate(34.24 0) scale(1.683 1.565)" d="M8.47,-7.71 A4.4,4.4 0 1 0 8.47,-2.29 M12.1,0 V-9.4 M12.1,-6.2 A3.2,3.2 0 0 1 18.5,-6.2 V0 M18.5,-6.2 A3.2,3.2 0 0 1 24.9,-6.2 V0" fill="none" stroke="#111" stroke-width="2.3" vector-effect="non-scaling-stroke"/></g>
</svg></body></html>
